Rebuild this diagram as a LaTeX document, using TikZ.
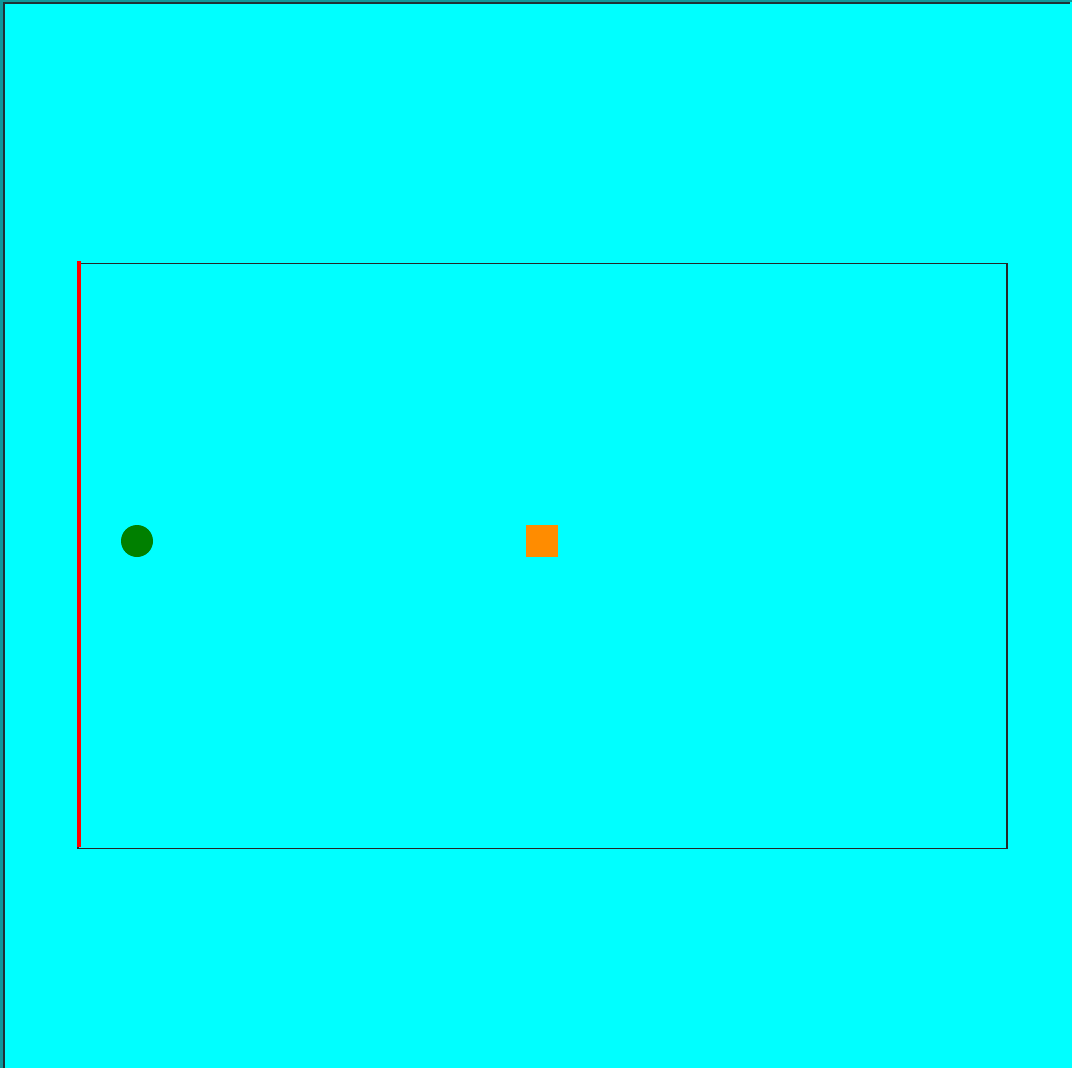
\documentclass[tikz,border=0pt]{standalone}
\definecolor{bgcyan}{RGB}{0,255,255}
\definecolor{framegray}{RGB}{30,50,55}
\definecolor{dgreen}{RGB}{0,128,0}
\definecolor{dorange}{RGB}{255,140,0}
\tikzset{
  framestyle/.style={draw=framegray, line width=1.6pt},
  boxstyle/.style={draw=black!85, line width=1pt},
  wallstyle/.style={draw=red, line width=3pt},
  ballstyle/.style={circle, fill=dgreen, minimum size=32*0.75pt, inner sep=0pt},
  blockstyle/.style={rectangle, fill=dorange, minimum size=32*0.75pt, inner sep=0pt}
}
\begin{document}
\begin{tikzpicture}[x=0.75pt, y=-0.75pt]
\useasboundingbox (0,0) rectangle (1072,1068);
\fill[bgcyan] (0,0) rectangle (1072,1068);
\fill[framegray!50!bgcyan] (0,0) rectangle (2.5,1068);
\fill[framegray!50!bgcyan] (0,0) rectangle (1072,1.5);
\coordinate (fbl) at (3.8,1075);
\coordinate (ftl) at (3.8,3);
\coordinate (ftr) at (1069.5,3);
\draw[framestyle] (fbl) -- (ftl) -- (ftr);
\coordinate (btl) at (78,263.5);
\coordinate (bbr) at (1007,848.5);
\draw[boxstyle] (btl) rectangle (bbr);
\coordinate (wtop) at (78.5,261);
\coordinate (wbot) at (78.5,847);
\draw[wallstyle] (wtop) -- (wbot);
\node[ballstyle] (ball) at (137,541) {};
\node[blockstyle] (block) at (542,541) {};
\end{tikzpicture}
\end{document}
